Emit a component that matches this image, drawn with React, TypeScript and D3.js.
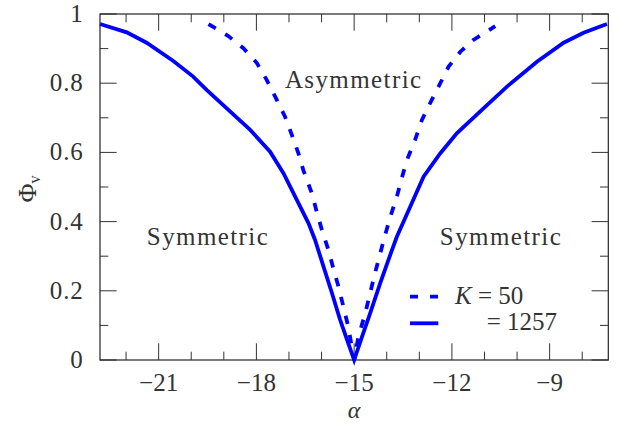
import React from "react";
import * as d3 from "d3";

const xTicks = [-21, -18, -15, -12, -9];
const yTicks = [0, 0.2, 0.4, 0.6, 0.8, 1];
const yTickLabels = ["0", "0.2", "0.4", "0.6", "0.8", "1"];

const k50Alpha = [-19.47, -18.86, -18.4, -17.99, -17.68, -17.37, -17.12, -16.91, -16.71, -16.56, -16.3, -16.15, -15.99, -15.79, -15.64, -15.48, -15.33, -15.18, -15.0, -14.87, -14.66, -14.51, -14.36, -14.2, -14.05, -13.89, -13.69, -13.54, -13.38, -13.13, -12.92, -12.67, -12.41, -12.1, -11.74, -11.34, -10.67];
const k50Phi = [0.971, 0.936, 0.901, 0.859, 0.809, 0.751, 0.703, 0.65, 0.597, 0.549, 0.482, 0.429, 0.376, 0.318, 0.265, 0.212, 0.154, 0.096, 0, 0.067, 0.135, 0.193, 0.251, 0.308, 0.361, 0.414, 0.472, 0.525, 0.578, 0.636, 0.694, 0.742, 0.79, 0.848, 0.891, 0.925, 0.965];

const k1257Alpha = [-22.8, -21.98, -21.37, -20.55, -19.94, -19.52, -18.91, -18.19, -17.58, -17.17, -16.81, -16.4, -16.2, -15.94, -15.68, -15.43, -15.18, -15.0, -14.76, -14.51, -14.2, -13.95, -13.69, -13.28, -12.87, -12.36, -11.85, -11.03, -10.31, -9.39, -8.57, -7.96, -7.24];
const k1257Phi = [0.971, 0.947, 0.917, 0.864, 0.819, 0.78, 0.727, 0.665, 0.602, 0.54, 0.472, 0.395, 0.347, 0.27, 0.193, 0.116, 0.048, 0, 0.067, 0.135, 0.222, 0.289, 0.356, 0.443, 0.53, 0.597, 0.655, 0.727, 0.79, 0.862, 0.917, 0.946, 0.971];

const W = 630, H = 428;
const L = 100, R = 608.3, T = 14, B = 360;
const FONT = "Liberation Serif";
const TXT = "#333";
const BLUE = "#0000ff";

const fs = (size: number, extra: React.CSSProperties = {}): React.CSSProperties => ({
  fontFamily: FONT,
  fontSize: size + "px",
  fill: TXT,
  ...extra,
});

export default function App() {
  const x = d3.scaleLinear().domain([-22.8, -7.2]).range([L, R]);
  const y = d3.scaleLinear().domain([0, 1]).range([B, T]);
  const line = d3.line<[number, number]>().x(d => x(d[0])).y(d => y(d[1]));
  const k50 = k50Alpha.map((a, i) => [a, k50Phi[i]] as [number, number]);
  const k1257 = k1257Alpha.map((a, i) => [a, k1257Phi[i]] as [number, number]);

  const xMinor = d3.range(-22, -7).filter(v => !xTicks.includes(v));
  const yMinor = [0.1, 0.3, 0.5, 0.7, 0.9];
  const MAJ = 16.7, MIN = 8.3;
  const tickColor = "#333";

  return (
    <svg width={W} height={H} style={{ position: "absolute", left: 0, top: 0 }}>
      <rect x={0} y={0} width={W} height={H} fill="#fff" />
      {/* ticks */}
      <g stroke={tickColor} strokeWidth={1}>
        {xTicks.map(v => (
          <g key={"xm" + v}>
            <line x1={x(v)} x2={x(v)} y1={B} y2={B - MAJ} />
            <line x1={x(v)} x2={x(v)} y1={T} y2={T + MAJ} />
          </g>
        ))}
        {xMinor.map(v => (
          <g key={"xn" + v}>
            <line x1={x(v)} x2={x(v)} y1={B} y2={B - MIN} />
            <line x1={x(v)} x2={x(v)} y1={T} y2={T + MIN} />
          </g>
        ))}
        {yTicks.map(v => (
          <g key={"ym" + v}>
            <line x1={L} x2={L + MAJ} y1={y(v)} y2={y(v)} />
            <line x1={R} x2={R - MAJ} y1={y(v)} y2={y(v)} />
          </g>
        ))}
        {yMinor.map(v => (
          <g key={"yn" + v}>
            <line x1={L} x2={L + MIN} y1={y(v)} y2={y(v)} />
            <line x1={R} x2={R - MIN} y1={y(v)} y2={y(v)} />
          </g>
        ))}
      </g>
      <rect x={L} y={T} width={R - L} height={B - T} fill="none" stroke="#222" strokeWidth={1.2} />

      {/* tick labels */}
      {xTicks.map(v => (
        <text key={"xl" + v} x={x(v)} y={391} textAnchor="middle" style={fs(25)}>{"\u2212" + Math.abs(v)}</text>
      ))}
      {yTicks.map((v, i) => (
        <text key={"yl" + v} x={83.5} y={y(v) + 8} textAnchor="end" style={fs(25, { letterSpacing: "0.8px" })}>{yTickLabels[i]}</text>
      ))}

      {/* curves */}
      <path d={line(k1257) || ""} fill="none" stroke={BLUE} strokeWidth={3.8} strokeLinejoin="miter" />
      <path d={line(k50) || ""} fill="none" stroke={BLUE} strokeWidth={3.8} strokeDasharray="8.5,11" />

      {/* annotations */}
      <text x={208} y={245} textAnchor="middle" style={fs(25, { letterSpacing: "1.4px" })}>Symmetric</text>
      <text x={501} y={245} textAnchor="middle" style={fs(25, { letterSpacing: "1.4px" })}>Symmetric</text>
      <text x={353.7} y={88} textAnchor="middle" style={fs(25, { letterSpacing: "1.4px" })}>Asymmetric</text>

      {/* legend */}
      <line x1={410} x2={438.3} y1={296.7} y2={296.7} stroke={BLUE} strokeWidth={3.8} strokeDasharray="8,12" />
      <line x1={410} x2={438.3} y1={323.3} y2={323.3} stroke={BLUE} strokeWidth={3.8} />
      <text x={455} y={303.5} style={fs(25)}><tspan style={{ fontStyle: "italic" }}>K</tspan> = 50</text>
      <text x={486.7} y={329.5} style={fs(25)}>= 1257</text>

      {/* axis labels */}
      <text x={354} y={418} textAnchor="middle" style={fs(24, { fontStyle: "italic" })}>α</text>
      <text transform="translate(36,189) rotate(-90)" textAnchor="middle" style={fs(26)}>
        Φ<tspan style={{ fontSize: "16px" }} dy={4}>v</tspan>
      </text>
    </svg>
  );
}
